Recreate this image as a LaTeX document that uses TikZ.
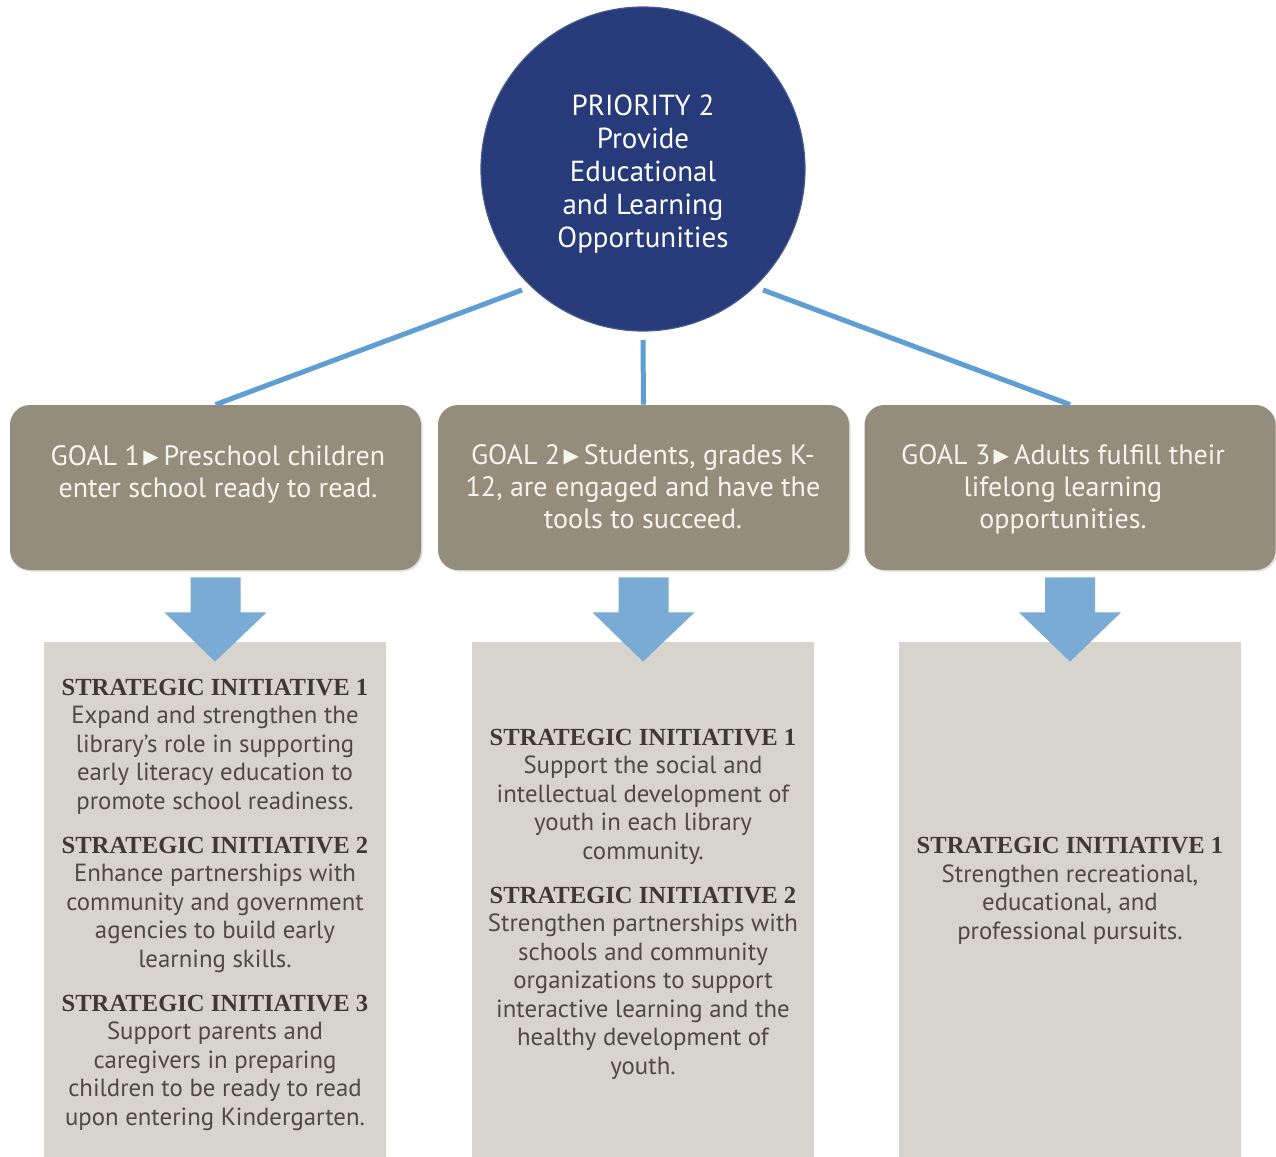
\documentclass[tikz,border=0pt]{standalone}
\usepackage{fontspec}
\setmainfont{PT Sans}
\newfontfamily\headfont{Liberation Serif}
\newfontfamily\symfont{DejaVu Sans}
\usetikzlibrary{calc,shadows}
\definecolor{navy}{RGB}{39,59,122}
\definecolor{connblue}{RGB}{95,158,210}
\definecolor{arrowblue}{RGB}{122,171,212}
\definecolor{goalfill}{RGB}{148,141,124}
\definecolor{sfill}{RGB}{215,212,205}
\definecolor{goaltxt}{RGB}{246,245,240}
\definecolor{headtxt}{RGB}{62,58,50}
\definecolor{bodytxt}{RGB}{78,74,66}
\newcommand{\tri}{\hspace{0.12em}\raisebox{0.6pt}{\symfont\fontsize{10}{10}\selectfont ▶}\hspace{0.18em}}
\newcommand{\shead}[1]{{\headfont\bfseries\fontsize{12.3}{14.25}\selectfont\color{headtxt}#1}}
\begin{document}
\begin{tikzpicture}[x=0.5pt,y=-0.5pt,
  goalbox/.style={rectangle, rounded corners=10pt, fill=goalfill, minimum width=205.5pt, minimum height=82.5pt, inner sep=0pt,
    drop shadow={shadow xshift=0.8pt, shadow yshift=-0.8pt, opacity=0.25}},
  sbox/.style={rectangle, fill=sfill, minimum width=171pt, minimum height=257.5pt, inner sep=0pt},
  goaltext/.style={align=center, text=goaltxt, font=\fontsize{14}{16}\selectfont, anchor=base, inner sep=0pt},
  stext/.style={align=center, text=bodytxt, font=\fontsize{12.4}{14.25}\selectfont, anchor=base, inner sep=0pt},
  conn/.style={draw=connblue, line width=2.5pt},
  barrow/.style={fill=arrowblue}]
\useasboundingbox (0,0) rectangle (1276,1157);
\fill[white] (0,0) rectangle (1276,1157);

% priority circle
\node[circle, fill=navy, draw=navy!85!white, line width=0.6pt, minimum size=162pt, inner sep=0pt] (pri) at (643,169) {};
\node[align=center, text=white, font=\fontsize{14.5}{16.5}\selectfont, inner sep=0pt, anchor=base] (prit) at (643,247)
  {PRIORITY 2\\Provide\\Educational\\and Learning\\Opportunities};

% goal boxes
\node[goalbox] (g1) at (215.5,487.5) {};
\node[goalbox] (g2) at (643.5,487.5) {};
\node[goalbox] (g3) at (1070,487.5) {};

\node[goaltext] (gt1) at (218,497) {GOAL 1\tri Preschool children\\enter school ready to read.};
\node[goaltext] (gt2) at (643,528) {GOAL 2\tri Students, grades K-\\12, are engaged and have the\\tools to succeed.};
\node[goaltext] (gt3) at (1063,528) {GOAL 3\tri Adults fulfill their\\lifelong learning\\opportunities.};

% connectors
\coordinate (l1) at (522,290);
\coordinate (l2) at (643,340);
\coordinate (l3) at (763,290);
\draw[conn] (l1) -- (g1.north);
\draw[conn] (l2) -- (g2.north);
\draw[conn] (l3) -- (g3.north);

% strategic boxes
\node[sbox] (s1) at (215,899.5) {};
\node[sbox] (s2) at (643,899.5) {};
\node[sbox] (s3) at (1070,899.5) {};

% block arrows
\foreach \g/\s in {g1/s1,g2/s2,g3/s3}{
  \fill[barrow] ($(\g.south)+(-25,7)$) -- ($(\g.south)+(25,7)$) -- ($(\g.south)+(25,42)$) -- ($(\g.south)+(51,42)$)
    -- ($(\s.north)+(0,20)$) -- ($(\g.south)+(-51,42)$) -- ($(\g.south)+(-25,42)$) -- cycle;
}

% strategic texts
\node[stext] (s1a) at (215,809) {\shead{STRATEGIC INITIATIVE 1}\\Expand and strengthen the\\library’s role in supporting\\early literacy education to\\promote school readiness.};
\node[stext] (s1b) at (215,967) {\shead{STRATEGIC INITIATIVE 2}\\Enhance partnerships with\\community and government\\agencies to build early\\learning skills.};
\node[stext] (s1c) at (215,1125) {\shead{STRATEGIC INITIATIVE 3}\\Support parents and\\caregivers in preparing\\children to be ready to read\\upon entering Kindergarten.};

\node[stext] (s2a) at (643,859) {\shead{STRATEGIC INITIATIVE 1}\\Support the social and\\intellectual development of\\youth in each library\\community.};
\node[stext] (s2b) at (643,1074) {\shead{STRATEGIC INITIATIVE 2}\\Strengthen partnerships with\\schools and community\\organizations to support\\interactive learning and the\\healthy development of\\youth.};

\node[stext] (s3a) at (1070,939) {\shead{STRATEGIC INITIATIVE 1}\\Strengthen recreational,\\educational, and\\professional pursuits.};
\end{tikzpicture}
\end{document}
